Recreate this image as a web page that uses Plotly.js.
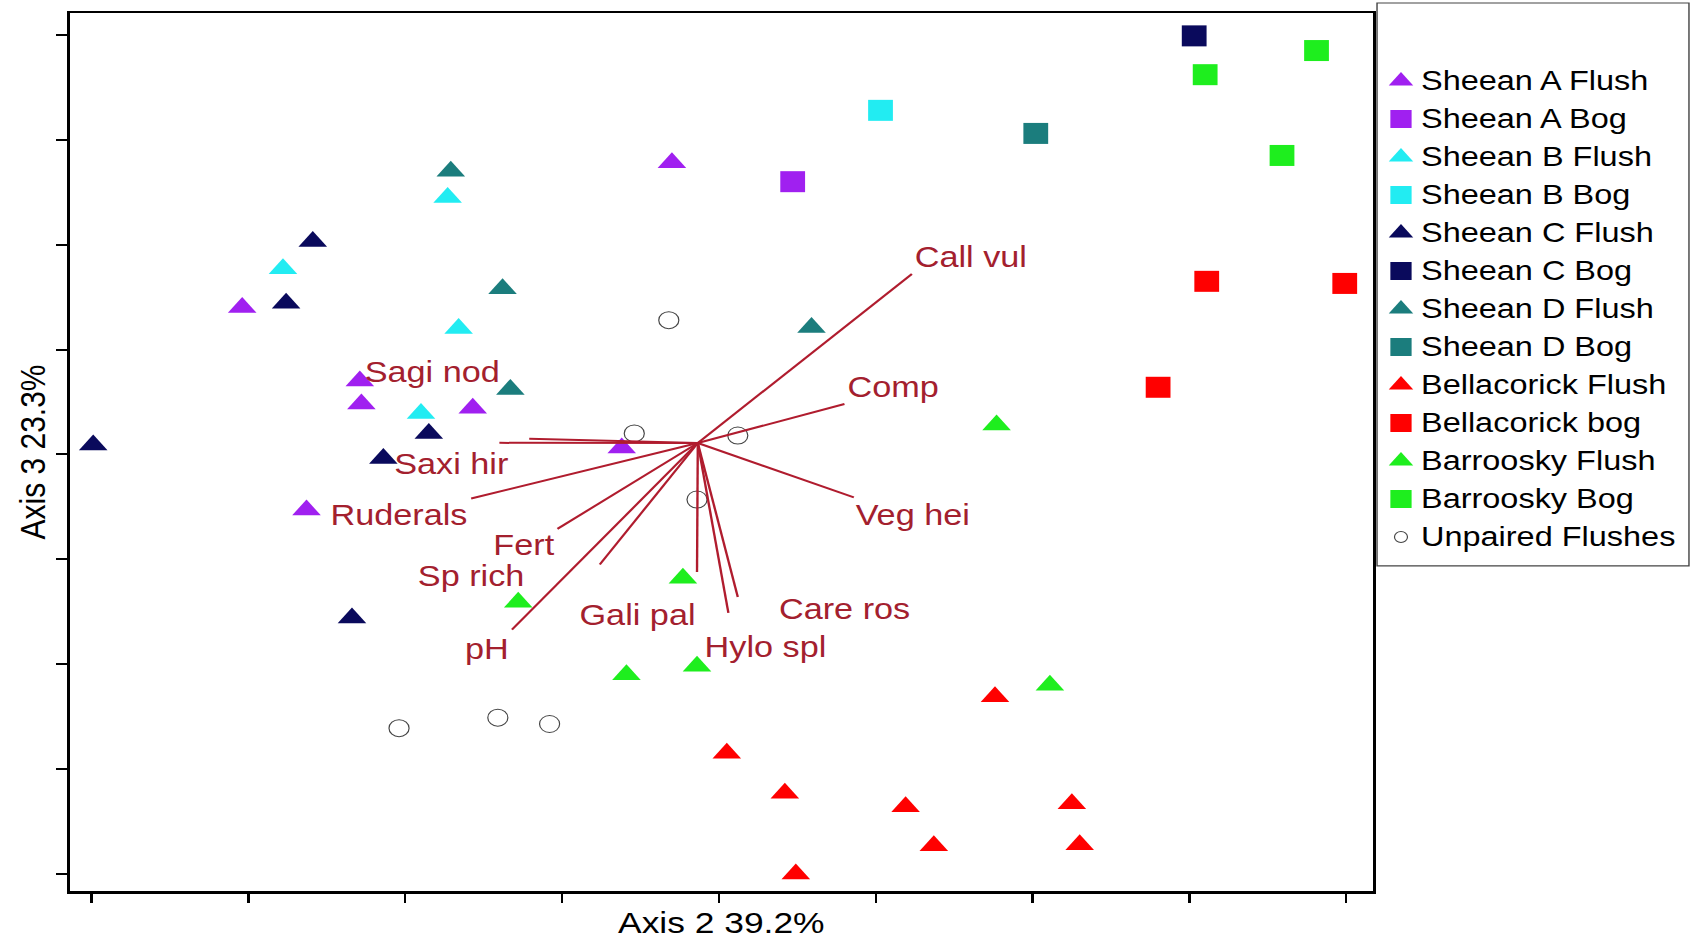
<!DOCTYPE html>
<html>
<head>
<meta charset="utf-8">
<script src="https://cdn.plot.ly/plotly-3.0.1.min.js"></script>
<style>
html, body { margin: 0; padding: 0; overflow: hidden; background: #ffffff; }
#chart { width: 1437px; height: 939px; transform: scaleX(1.180237); transform-origin: 0 0; }
</style>
</head>
<body>
<div id="chart"></div>
<script>
// ---------------- DATA ----------------
const groupNames = ['Sheean A Flush', 'Sheean A Bog', 'Sheean B Flush', 'Sheean B Bog',
  'Sheean C Flush', 'Sheean C Bog', 'Sheean D Flush', 'Sheean D Bog',
  'Bellacorick Flush', 'Bellacorick bog', 'Barroosky Flush', 'Barroosky Bog', 'Unpaired Flushes'];

const sheeanAFlushX = [3.70, 0.96, 1.71, 1.72, 2.43, 1.37, 3.38];
const sheeanAFlushY = [6.78, 5.40, 4.70, 4.48, 4.44, 3.47, 4.06];
const sheeanABogX = [4.47];
const sheeanABogY = [6.60];
const sheeanBFlushX = [2.27, 1.22, 2.34, 2.10];
const sheeanBFlushY = [6.45, 5.77, 5.20, 4.39];
const sheeanBBogX = [5.03];
const sheeanBBogY = [7.28];
const sheeanCFlushX = [1.41, 1.24, 0.01, 2.15, 1.86, 1.66];
const sheeanCFlushY = [6.03, 5.44, 4.09, 4.20, 3.96, 2.44];
const sheeanCBogX = [7.03];
const sheeanCBogY = [7.99];
const sheeanDFlushX = [2.29, 2.62, 2.67, 4.59];
const sheeanDFlushY = [6.70, 5.58, 4.62, 5.21];
const sheeanDBogX = [6.02];
const sheeanDBogY = [7.06];
const bellacorickFlushX = [5.76, 4.05, 4.42, 5.19, 6.25, 5.37, 6.30, 4.49];
const bellacorickFlushY = [1.69, 1.15, 0.77, 0.64, 0.67, 0.27, 0.28, 0.00];
const bellacorickBogX = [7.11, 7.99, 6.80];
const bellacorickBogY = [5.65, 5.63, 4.64];
const barrooskyFlushX = [5.77, 3.77, 2.72, 3.41, 3.86, 6.11];
const barrooskyFlushY = [4.28, 2.82, 2.59, 1.90, 1.98, 1.80];
const barrooskyBogX = [7.81, 7.10, 7.59];
const barrooskyBogY = [7.85, 7.62, 6.85];
const unpairedX = [3.68, 3.46, 4.12, 3.86, 1.96, 2.59, 2.92];
const unpairedY = [5.28, 4.20, 4.18, 3.57, 1.39, 1.49, 1.43];

const groupX = [sheeanAFlushX, sheeanABogX, sheeanBFlushX, sheeanBBogX, sheeanCFlushX, sheeanCBogX,
  sheeanDFlushX, sheeanDBogX, bellacorickFlushX, bellacorickBogX, barrooskyFlushX, barrooskyBogX, unpairedX];
const groupY = [sheeanAFlushY, sheeanABogY, sheeanBFlushY, sheeanBBogY, sheeanCFlushY, sheeanCBogY,
  sheeanDFlushY, sheeanDBogY, bellacorickFlushY, bellacorickBogY, barrooskyFlushY, barrooskyBogY, unpairedY];

// biplot vectors
const vectorNames = ['Call vul', 'Comp', 'Veg hei', 'Care ros', 'Hylo spl', 'Gali pal',
  'Sp rich', 'Fert', 'pH', 'Ruderals', 'Saxi hir', 'Sagi nod'];
const vectorEndX = [5.23, 4.80, 4.86, 4.12, 4.06, 3.86, 3.24, 2.97, 2.68, 2.42, 2.60, 2.79];
const vectorEndY = [5.72, 4.48, 3.59, 2.64, 2.49, 2.88, 2.95, 3.29, 2.33, 3.58, 4.11, 4.15];
const vectorOriginX = 3.865;
const vectorOriginY = 4.109;

const xTitle = 'Axis 2 39.2%';
const yTitle = 'Axis 3 23.3%';
const tickValues = [0, 1, 2, 3, 4, 5, 6, 7, 8];

// ---------------- STYLE ----------------
const STRETCH = 1696 / 1437;
const FONT = 'Liberation Sans, Arial, Helvetica, sans-serif';
const groupColors = ['#A020F0', '#A020F0', '#22ECF2', '#22ECF2', '#0A0A5C', '#0A0A5C',
  '#1B7D7D', '#1B7D7D', '#FF0000', '#FF0000', '#1EEE1E', '#1EEE1E', '#444444'];
const groupSymbols = ['triangle-up', 'square', 'triangle-up', 'square', 'triangle-up', 'square',
  'triangle-up', 'square', 'triangle-up', 'square', 'triangle-up', 'square', 'circle-open'];
const plotSizes = { 'triangle-up': 21, 'square': 21, 'circle-open': 17 };
const legendSizes = { 'triangle-up': 18, 'square': 18, 'circle-open': 11 };
const vectorColor = '#B01C2E';
const labelColor = '#A3202E';
// [anchor, dx (screen px), dy (screen px, down)] relative to vector end
const labelPlacement = {
  'Call vul': ['left', 0, -17], 'Comp': ['left', 1, -17], 'Veg hei': ['left', 0, 18],
  'Care ros': ['left', 39, 12], 'Hylo spl': ['left', -26, 34], 'Gali pal': ['right', 1, 43],
  'Sp rich': ['right', -73, 11], 'Fert': ['right', 0, 16], 'pH': ['right', -1, 19],
  'Ruderals': ['right', -2, 17], 'Saxi hir': ['right', 12, 21], 'Sagi nod': ['right', -27, -67]
};
const legendMarkerX = 20.3, legendTextX = 35.0;

// ---------------- TRACES ----------------
const traces = groupNames.map((name, i) => ({
  type: 'scatter', mode: 'markers', name: name,
  x: groupX[i], y: groupY[i], xaxis: 'x', yaxis: 'y',
  cliponaxis: false,
  marker: {
    symbol: groupSymbols[i], color: groupColors[i], size: plotSizes[groupSymbols[i]], opacity: 1,
    line: { width: groupSymbols[i] === 'circle-open' ? 1 : 0, color: groupColors[i] }
  },
  hoverinfo: 'skip'
}));

const vx = [], vy = [];
vectorNames.forEach((n, i) => {
  vx.push(vectorOriginX, vectorEndX[i], null);
  vy.push(vectorOriginY, vectorEndY[i], null);
});
traces.push({
  type: 'scatter', mode: 'lines', x: vx, y: vy, xaxis: 'x', yaxis: 'y',
  line: { color: vectorColor, width: 2 }, hoverinfo: 'skip', cliponaxis: false
});

// legend keys
traces.push({
  type: 'scatter', mode: 'markers', xaxis: 'x2', yaxis: 'y2', cliponaxis: false,
  x: groupNames.map(() => legendMarkerX), y: groupNames.map((n, i) => i),
  marker: {
    symbol: groupSymbols, color: groupColors, opacity: 1,
    size: groupSymbols.map(s => legendSizes[s]),
    line: { width: groupSymbols.map(s => s === 'circle-open' ? 1 : 0), color: groupColors }
  },
  hoverinfo: 'skip'
});

const annotations = vectorNames.map((n, i) => {
  const p = labelPlacement[n];
  return {
    xref: 'x', yref: 'y', x: vectorEndX[i], y: vectorEndY[i], text: n, showarrow: false,
    xanchor: p[0], yanchor: 'middle', xshift: p[1] / STRETCH, yshift: -p[2],
    font: { family: FONT, size: 29, color: labelColor }
  };
});
groupNames.forEach((n, i) => {
  annotations.push({
    xref: 'x2', yref: 'y2', x: legendTextX, y: i, text: n, showarrow: false,
    xanchor: 'left', yanchor: 'middle',
    font: { family: FONT, size: 27.5, color: '#000000' }
  });
});

const axisCommon = {
  tickmode: 'array', tickvals: tickValues, showticklabels: false,
  ticks: 'outside', ticklen: 9, tickwidth: 2, tickcolor: '#000000',
  showline: true, linecolor: '#000000', linewidth: 2.5, mirror: true,
  showgrid: false, zeroline: false, fixedrange: true
};

const layout = {
  width: 1437, height: 939, autosize: false,
  margin: { l: 59, r: 5, t: 13, b: 48, pad: 0 },
  paper_bgcolor: '#ffffff', plot_bgcolor: '#ffffff',
  showlegend: false, hovermode: false,
  font: { family: FONT, color: '#000000' },
  xaxis: Object.assign({}, axisCommon, {
    domain: [0, 0.8043], range: [-0.1403, 8.170], anchor: 'y',
    title: { text: xTitle, font: { family: FONT, size: 30, color: '#000000' }, standoff: 16 }
  }),
  yaxis: Object.assign({}, axisCommon, {
    domain: [0, 1], range: [-0.162, 8.208], anchor: 'x',
    title: { text: yTitle, font: { family: FONT, size: 30, color: '#000000' }, standoff: 0 }
  }),
  xaxis2: { domain: [0.8068, 1], range: [0, 265.3], visible: false, anchor: 'y2', fixedrange: true },
  yaxis2: { domain: [0, 1], range: [21.316, -1.789], visible: false, anchor: 'x2', fixedrange: true },
  shapes: [{
    type: 'rect', xref: 'paper', yref: 'paper', x0: 0.8068, x1: 0.9993, y0: 0.3702, y1: 1.0114,
    line: { color: '#444444', width: 1.2 }, fillcolor: 'rgba(0,0,0,0)'
  }],
  annotations: annotations
};

Plotly.newPlot('chart', traces, layout, { staticPlot: true, displayModeBar: false });
</script>
</body>
</html>
